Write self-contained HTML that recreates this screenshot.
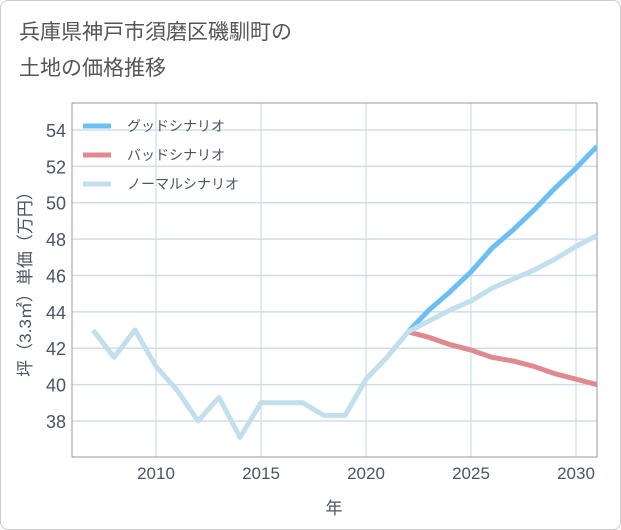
<!DOCTYPE html>
<html><head><meta charset="utf-8"><style>
body{margin:0;background:#fff;}
#wrap{position:relative;width:619px;height:528px;border:1px solid #ccc;border-radius:8px;background:#fff;overflow:hidden;font-family:"Liberation Sans","Noto Sans CJK JP",sans-serif;}
#title{position:absolute;left:18px;top:14px;font-size:21px;line-height:36px;color:#555;}
</style></head><body>
<div id="wrap">
<div id="title">兵庫県神戸市須磨区磯馴町の<br>土地の価格推移</div>
<svg id="chart" width="621" height="530" style="position:absolute;left:-1px;top:-1px"></svg>
</div>
<script>
const years=[2007,2008,2009,2010,2011,2012,2013,2014,2015,2016,2017,2018,2019,2020,2021,2022,2023,2024,2025,2026,2027,2028,2029,2030,2031];
const normalVals=[43.0,41.5,43.0,41.0,39.7,38.0,39.3,37.1,39.0,39.0,39.0,38.3,38.3,40.3,41.5,42.9,43.5,44.1,44.6,45.3,45.8,46.3,46.9,47.6,48.2];
const goodYears=[2022,2023,2024,2025,2026,2027,2028,2029,2030,2031];
const goodVals=[42.9,44.1,45.1,46.2,47.5,48.5,49.6,50.8,51.9,53.1];
const badVals=[42.9,42.6,42.2,41.9,41.5,41.3,41.0,40.6,40.3,40.0];
const yTicks=[38,40,42,44,46,48,50,52,54];
const xTicks=[2010,2015,2020,2025,2030];
const L=72,R=597,T=103,B=457;
const TXT='#4a5563';
const x=v=>156+(v-2010)*21;
const y=v=>421-(v-38)*18.19;
const svg=document.getElementById('chart');
const NS='http://www.w3.org/2000/svg';
function mk(tag,attrs,parent){const e=document.createElementNS(NS,tag);for(const k in attrs)e.setAttribute(k,attrs[k]);(parent||svg).appendChild(e);return e;}
for(const t of yTicks){
 const l=mk('line',{x1:L,x2:R,y1:y(t),y2:y(t),stroke:'#cfdde8','stroke-width':1.5});
 
 
 const tx=mk('text',{x:66,y:y(t)+7,'text-anchor':'end','font-size':18,fill:TXT});
 tx.textContent=t;
 
 
}
for(const t of xTicks){
 const l=mk('line',{x1:x(t),x2:x(t),y1:T,y2:B,stroke:'#cfdde8','stroke-width':1.2});
 
 
 const tx=mk('text',{x:x(t),y:479,'text-anchor':'middle','font-size':17,fill:TXT});
 tx.textContent=t;
 
 
}
const frame=mk('rect',{x:L,y:T,width:R-L,height:B-T,fill:'none',stroke:'#999','stroke-width':1});


const cp=mk('clipPath',{id:'cp'});mk('rect',{x:L,y:T,width:R-L,height:B-T},cp);
function line(xs,vs,color,name){
 const p=mk('polyline',{points:xs.map((yr,i)=>x(yr)+','+y(vs[i])).join(' '),fill:'none',stroke:color,'stroke-width':5,'stroke-linejoin':'round','clip-path':'url(#cp)'});
 
 
}
line(goodYears,badVals,'#de8a90','bad-scenario-line');
line(goodYears,goodVals,'#6bbff5','good-scenario-line');
line(years,normalVals,'#c2dfec','normal-scenario-line');
const leg=[['グッドシナリオ','#6bbff5','legend-good'],['バッドシナリオ','#de8a90','legend-bad'],['ノーマルシナリオ','#c2dfec','legend-normal']];
leg.forEach((d,i)=>{
 const g=mk('g',{});
 
 
 const yy=126+i*29;
 mk('line',{x1:83,x2:111,y1:yy,y2:yy,stroke:d[1],'stroke-width':5},g);
 const t=mk('text',{x:127,y:yy+5,'font-size':14,fill:TXT},g);t.textContent=d[0];
});
const yt=mk('text',{transform:'translate(31,280) rotate(-90)','text-anchor':'middle','font-size':17,fill:TXT});
yt.textContent='坪（3.3㎡）単価（万円）';


const xt=mk('text',{x:334,y:514,'text-anchor':'middle','font-size':17,fill:TXT});
xt.textContent='年';


</script>
</body></html>
